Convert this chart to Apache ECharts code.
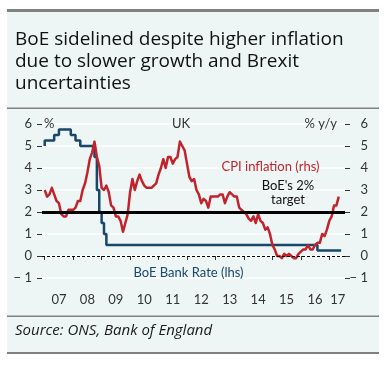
<!DOCTYPE html>
<html>
<head>
<meta charset="utf-8">
<script src="https://cdn.jsdelivr.net/npm/echarts@6/dist/echarts.min.js"></script>
<style>
html,body{margin:0;padding:0;background:#ffffff;}
#chart{width:389px;height:366px;}
</style>
</head>
<body>
<div id="chart"></div>
<script>
// Monthly data, first point = December 2006 (month-end convention)
const startYear = 2006;
const startMonth = 12;

// UK CPI inflation, % y/y (rhs), Dec 2006 .. Apr 2017
const cpiInflation = [
  3.0,
  2.7, 2.8, 3.1, 2.8, 2.5, 2.4, 1.9, 1.8, 1.8, 2.1, 2.1, 2.1,
  2.2, 2.5, 2.5, 3.0, 3.3, 3.8, 4.4, 4.7, 5.2, 4.5, 4.1, 3.1,
  3.0, 3.2, 2.9, 2.3, 2.2, 1.8, 1.8, 1.6, 1.1, 1.5, 1.9, 2.9,
  3.5, 3.0, 3.4, 3.7, 3.4, 3.2, 3.1, 3.1, 3.1, 3.2, 3.3, 3.7,
  4.0, 4.4, 4.0, 4.5, 4.5, 4.2, 4.4, 4.5, 5.2, 5.0, 4.8, 4.2,
  3.6, 3.4, 3.5, 3.0, 2.8, 2.4, 2.6, 2.5, 2.2, 2.7, 2.7, 2.7,
  2.7, 2.8, 2.8, 2.4, 2.7, 2.9, 2.8, 2.7, 2.7, 2.2, 2.1, 2.0,
  1.9, 1.7, 1.6, 1.8, 1.5, 1.9, 1.6, 1.5, 1.2, 1.3, 1.0, 0.5,
  0.3, 0.0, 0.0, -0.1, 0.1, 0.0, 0.1, 0.0, -0.1, -0.1, 0.1, 0.2,
  0.3, 0.3, 0.5, 0.3, 0.3, 0.5, 0.6, 0.6, 1.0, 0.9, 1.2, 1.6,
  1.8, 2.3, 2.3, 2.7
];

// BoE Bank Rate, % (lhs), Dec 2006 .. May 2017
const bankRate = [
  5.0,
  5.25, 5.25, 5.25, 5.25, 5.5, 5.5, 5.75, 5.75, 5.75, 5.75, 5.75, 5.5,
  5.5, 5.25, 5.25, 5.0, 5.0, 5.0, 5.0, 5.0, 5.0, 4.5, 3.0, 2.0,
  1.5, 1.0, 0.5, 0.5, 0.5, 0.5, 0.5, 0.5, 0.5, 0.5, 0.5, 0.5,
  0.5, 0.5, 0.5, 0.5, 0.5, 0.5, 0.5, 0.5, 0.5, 0.5, 0.5, 0.5,
  0.5, 0.5, 0.5, 0.5, 0.5, 0.5, 0.5, 0.5, 0.5, 0.5, 0.5, 0.5,
  0.5, 0.5, 0.5, 0.5, 0.5, 0.5, 0.5, 0.5, 0.5, 0.5, 0.5, 0.5,
  0.5, 0.5, 0.5, 0.5, 0.5, 0.5, 0.5, 0.5, 0.5, 0.5, 0.5, 0.5,
  0.5, 0.5, 0.5, 0.5, 0.5, 0.5, 0.5, 0.5, 0.5, 0.5, 0.5, 0.5,
  0.5, 0.5, 0.5, 0.5, 0.5, 0.5, 0.5, 0.5, 0.5, 0.5, 0.5, 0.5,
  0.5, 0.5, 0.5, 0.5, 0.5, 0.5, 0.5, 0.25, 0.25, 0.25, 0.25, 0.25,
  0.25, 0.25, 0.25, 0.25, 0.25
];

// x-axis: ticks at year starts, labels centred in each year
const xTickYears = [2007, 2008, 2009, 2010, 2011, 2012, 2013, 2014, 2015, 2016, 2017];
const xLabelYears = [2007.5, 2008.5, 2009.5, 2010.5, 2011.5, 2012.5, 2013.5, 2014.5, 2015.5, 2016.5, 2017.3];
const xLabelTexts = ['07', '08', '09', '10', '11', '12', '13', '14', '15', '16', '17'];
const yTicks = [-1, 0, 1, 2, 3, 4, 5, 6];
const targetLevel = 2;

function toSeries(values) {
  return values.map(function (v, i) {
    const m = startMonth + i; // month count from Jan of startYear (1-based)
    return [startYear + m / 12, v];
  });
}

const fontMain = 'Lato, "Open Sans", sans-serif';
const fontTitle = '"Open Sans", Lato, sans-serif';
const axisColor = '#333333';
const red = '#c0232c';
const navy = '#19466b';

function fmtY(v) { return v < 0 ? '\u2212 ' + Math.abs(v) : String(v); }

const chart = echarts.init(document.getElementById('chart'), null, {renderer: 'canvas'});
const option = {
  animation: false,
  backgroundColor: '#ffffff',
  grid: {left: 42, right: 44, top: 124, height: 154},
  xAxis: {
    type: 'value',
    min: 2006.905,
    max: 2017.552,
    offset: 7,
    axisLine: {show: false},
    splitLine: {show: false},
    axisTick: {show: true, length: 4, customValues: xTickYears, lineStyle: {color: axisColor, width: 1}},
    axisLabel: {
      customValues: xLabelYears,
      margin: 8,
      color: axisColor,
      fontSize: 13,
      fontFamily: fontMain,
      formatter: function (v) { return xLabelTexts[xLabelYears.indexOf(v)]; }
    }
  },
  yAxis: [
    {
      type: 'value', position: 'left', min: yTicks[0], max: yTicks[yTicks.length - 1], interval: 1,
      axisLine: {show: false},
      axisTick: {show: true, length: 5, lineStyle: {color: axisColor}},
      axisLabel: {margin: 10, color: axisColor, fontSize: 13, fontFamily: fontMain, formatter: fmtY},
      splitLine: {show: true, lineStyle: {color: '#ffffff', width: 1.5}}
    },
    {
      type: 'value', position: 'right', min: yTicks[0], max: yTicks[yTicks.length - 1], interval: 1,
      axisLine: {show: false},
      axisTick: {show: true, length: 5, lineStyle: {color: axisColor}},
      axisLabel: {margin: 23, align: 'right', color: axisColor, fontSize: 13, fontFamily: fontMain, formatter: fmtY},
      splitLine: {show: false}
    }
  ],
  series: [
    {
      name: 'ref',
      type: 'line',
      data: [],
      yAxisIndex: 0,
      silent: true,
      z: 1,
      markLine: {
        silent: true,
        symbol: 'none',
        label: {show: false},
        data: [
          {yAxis: targetLevel, lineStyle: {color: '#000000', width: 3, type: 'solid'}},
          {yAxis: 0, lineStyle: {color: '#000000', width: 1, type: [3, 2]}}
        ]
      }
    },
    {
      name: 'BoE Bank Rate (lhs)',
      type: 'line',
      yAxisIndex: 0,
      step: 'start',
      showSymbol: false,
      data: toSeries(bankRate),
      lineStyle: {color: navy, width: 2.5},
      itemStyle: {color: navy},
      z: 3
    },
    {
      name: 'CPI inflation (rhs)',
      type: 'line',
      yAxisIndex: 1,
      showSymbol: false,
      data: toSeries(cpiInflation),
      lineStyle: {color: red, width: 2.5, join: 'round'},
      itemStyle: {color: red},
      z: 4
    }
  ],
  graphic: [
    {type: 'rect', z: -10, shape: {x: 7, y: 12, width: 372, height: 341}, style: {fill: '#eef6f5'}, silent: true},
    {type: 'rect', z: -5, shape: {x: 7, y: 9, width: 372, height: 3}, style: {fill: '#808080'}},
    {type: 'rect', z: -5, shape: {x: 7, y: 107.5, width: 372, height: 1.5}, style: {fill: '#808080'}},
    {type: 'rect', z: -5, shape: {x: 7, y: 315.5, width: 372, height: 1.5}, style: {fill: '#808080'}},
    {type: 'rect', z: -5, shape: {x: 7, y: 352, width: 372, height: 2}, style: {fill: '#808080'}},
    {type: 'text', z: 100, left: 15, top: 29, style: {
      text: 'BoE sidelined despite higher inflation\ndue to slower growth and Brexit\nuncertainties',
      font: '500 19px ' + fontTitle, fill: '#111111', lineHeight: 22}},
    {type: 'text', z: 100, left: 15, top: 323, style: {
      text: 'Source: ONS, Bank of England', font: 'italic 15px ' + fontTitle, fill: '#1a1a1a'}},
    {type: 'text', z: 100, x: 44, y: 124, style: {text: '%', font: '13px ' + fontMain, fill: axisColor, verticalAlign: 'middle'}},
    {type: 'text', z: 100, x: 337, y: 124, style: {text: '% y/y', font: '13px ' + fontMain, fill: axisColor, align: 'right', verticalAlign: 'middle'}},
    {type: 'text', z: 100, x: 181, y: 124, style: {text: 'UK', font: '13px ' + fontMain, fill: axisColor, align: 'center', verticalAlign: 'middle'}},
    {type: 'text', z: 100, x: 270.5, y: 167, style: {text: 'CPI inflation (rhs)', font: '13px ' + fontMain, fill: red, align: 'center', verticalAlign: 'middle'}},
    {type: 'text', z: 100, x: 288, y: 193, style: {text: "BoE's 2%\ntarget", font: '13px ' + fontMain, fill: '#111111', align: 'center', verticalAlign: 'middle', lineHeight: 14}},
    {type: 'text', z: 100, x: 188.5, y: 273, style: {text: 'BoE Bank Rate (lhs)', font: '13px ' + fontMain, fill: navy, align: 'center', verticalAlign: 'middle'}}
  ]
};
chart.setOption(option);
</script>
</body>
</html>
